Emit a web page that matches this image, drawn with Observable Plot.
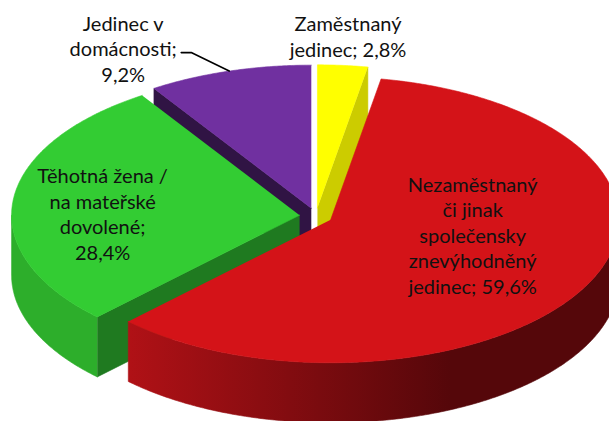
<!DOCTYPE html>
<html><head><meta charset="utf-8">
<script src="https://cdn.jsdelivr.net/npm/d3@7"></script>
<script src="https://cdn.jsdelivr.net/npm/@observablehq/plot@0.6"></script>
<style>html,body{margin:0;padding:0;background:#fff;overflow:hidden}</style>
</head><body><div id="chart"></div>
<script>
// ---- data (clockwise from 12 o'clock) ----
const categories = [
  "Zaměstnaný\njedinec",
  "Nezaměstnaný\nči jinak\nspolečensky\nznevýhodněný\njedinec",
  "Těhotná žena /\nna mateřské\ndovolené",
  "Jedinec v\ndomácnosti"
];
const values = [2.8, 59.6, 28.4, 9.2];
const separators = ["; ", "; ", ";\n", ";\n"];

// ---- styles ----
const topColors = ["#FFFF00", "#D41318", "#33CC33", "#7030A0"];
const radialColors = ["#CCCC00", "#8B0A0E", "#1F7A20", "#301444"];
const wallColors = ["#CCCC00", "url(#redWall)", "#2DAE2B", "#5A2580"];
// label placement relative to slice: radius fraction and angle shift
const labelLayout = [
  {r: 1.208, dA: 0, leader: false},
  {r: 0.504, dA: -15.4, leader: false},
  {r: 0.684, dA: -4.8, leader: false},
  {r: 1.296, dA: -13.7, leader: true}
];

// ---- geometry ----
const W = 609, H = 421;
const cx = 315.5, cy = 215.5, rx = 288, ry = 143, depth = 60, explode = 16.5;
const rad = a => a * Math.PI / 180;
const total = d3.sum(values);
let acc = 0;
const slices = values.map((v, i) => {
  const a0 = acc / total * 360; acc += v; const a1 = acc / total * 360;
  const m = (a0 + a1) / 2;
  return {i, v, a0, a1, m,
    ox: cx + explode * Math.sin(rad(m)),
    oy: cy - explode * (ry / rx) * Math.cos(rad(m))};
});
function pt(s, a, k = 1, dz = 0) {
  return {x: s.ox + k * rx * Math.sin(rad(a)), y: s.oy - k * ry * Math.cos(rad(a)) + dz};
}
function arc(s, t0, t1, dz) {
  const n = Math.max(2, Math.ceil(Math.abs(t1 - t0) / 0.5));
  return d3.range(n + 1).map(j => pt(s, t0 + (t1 - t0) * j / n, 1, dz));
}
function radialFace(s, a) {
  const apex = {x: s.ox, y: s.oy};
  const p = pt(s, a);
  return [apex, p, {x: p.x, y: p.y + depth}, {x: apex.x, y: apex.y + depth}];
}
const walls = [];
slices.forEach(s => {
  const t0 = Math.max(s.a0, 90), t1 = Math.min(s.a1, 270);
  if (t1 > t0) walls.push({pts: [...arc(s, t0, t1, 0), ...arc(s, t1, t0, depth)], fill: wallColors[s.i]});
  if (Math.sin(rad(s.a0)) < -1e-6) walls.push({pts: radialFace(s, s.a0), fill: radialColors[s.i]});
  if (Math.sin(rad(s.a1)) > 1e-6) walls.push({pts: radialFace(s, s.a1), fill: radialColors[s.i]});
});
walls.forEach(w => w.key = d3.mean(w.pts, p => p.y));
walls.sort((a, b) => a.key - b.key);
const tops = slices.map(s => ({pts: [{x: s.ox, y: s.oy}, ...arc(s, s.a0, s.a1, 0)], fill: topColors[s.i]}));

const fmt = v => v.toFixed(1).replace(".", ",") + "%";
const labels = slices.map(s => {
  const L = labelLayout[s.i];
  const p = pt(s, s.m + L.dA, L.r);
  return {x: p.x, y: p.y, text: categories[s.i] + separators[s.i] + fmt(s.v)};
});
const leaders = [];
slices.forEach(s => {
  if (!labelLayout[s.i].leader) return;
  const p = pt(s, s.m);
  const e = {x: p.x - 38, y: p.y - 18.5};
  leaders.push([{x: e.x - 10, y: e.y}, e, p]);
});

const faceMark = f => Plot.line(f.pts, {x: "x", y: "y", fill: f.fill, stroke: f.fill, strokeWidth: 0.6, curve: "linear"});

const chart = Plot.plot({
  width: W, height: H, margin: 0,
  x: {domain: [0, W], range: [0, W], axis: null},
  y: {domain: [0, H], range: [0, H], axis: null},
  style: {background: "#fff", fontFamily: "Lato"},
  marks: [
    ...walls.map(faceMark),
    ...tops.map(faceMark),
    ...leaders.map(l => Plot.line(l, {x: "x", y: "y", stroke: "#000", strokeWidth: 1.6})),
    Plot.text(labels, {x: "x", y: "y", text: "text", fontSize: 20, fontFamily: "Lato", lineHeight: 1.275, fill: "#111"})
  ]
});
d3.select(chart).insert("defs", ":first-child").html(
  `<linearGradient id="redWall" gradientUnits="userSpaceOnUse" x1="128" y1="0" x2="450" y2="0">
     <stop offset="0" stop-color="#B01116"/><stop offset="1" stop-color="#55070A"/>
   </linearGradient>`);
document.getElementById("chart").appendChild(chart);
</script></body></html>
